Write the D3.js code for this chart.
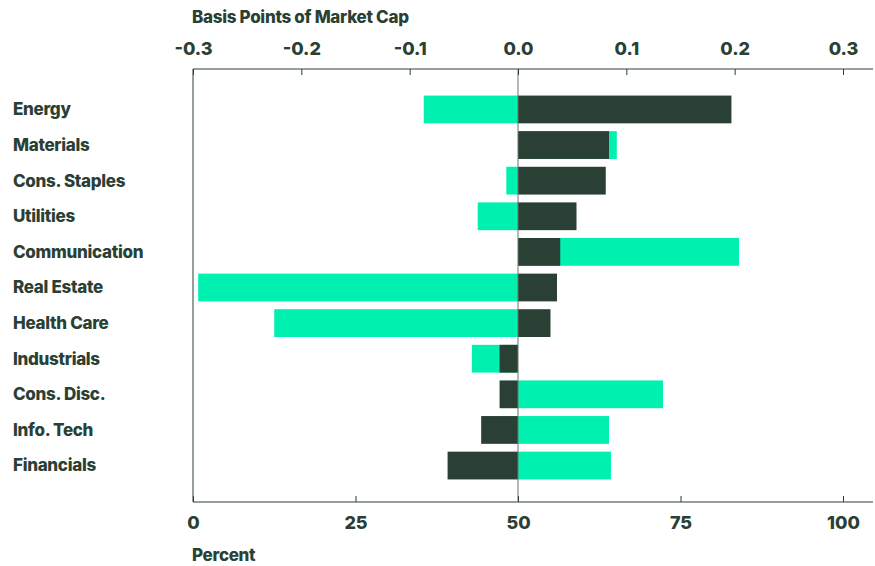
<!DOCTYPE html>
<html lang="en">
<head>
<meta charset="UTF-8" />
<style>
  body { margin: 0; background: #fff; font-family: Inter, "Noto Sans", sans-serif; }
  text { fill: #2a4034; font-weight: 800; }
</style>
</head>
<body>
<svg width="875" height="566"></svg>
<script src="https://d3js.org/d3.v7.min.js"></script>
<script>
const sectors = ['Energy', 'Materials', 'Cons. Staples', 'Utilities', 'Communication', 'Real Estate',
    'Health Care', 'Industrials', 'Cons. Disc.', 'Info. Tech', 'Financials'];
const basisPoints = [0.197, 0.084, 0.081, 0.054, 0.039, 0.036, 0.030, -0.017, -0.017, -0.034, -0.065];
const percent = [35.5, 65.2, 48.2, 43.8, 84.0, 0.8, 12.5, 42.9, 72.3, 64.0, 64.3];
const bpTicks = [-0.3, -0.2, -0.1, 0, 0.1, 0.2, 0.3];
const pctTicks = [0, 25, 50, 75, 100];

const dark = '#2a4034', green = '#00f0b0';
const mLeft = 193, mRight = 843, frameRight = 873, mTop = 69, mBottom = 502;
const svg = d3.select('svg');

const xBp = d3.scaleLinear().domain([-0.3, 0.3]).range([mLeft, mRight]);
const xPct = d3.scaleLinear().domain([0, 100]).range([mLeft, mRight]);
const y = d3.scaleBand().domain(sectors).range([94.5, 480.5]).paddingInner(0.22).paddingOuter(0.03);

// green bars (percent, from 50) drawn first
svg.append('g').selectAll('rect').data(sectors).join('rect')
    .attr('x', (d, i) => Math.min(xPct(50), xPct(percent[i])))
    .attr('width', (d, i) => Math.abs(xPct(percent[i]) - xPct(50)))
    .attr('y', (d) => y(d)).attr('height', y.bandwidth())
    .attr('fill', green);

svg.append('g').selectAll('rect').data(sectors).join('rect')
    .attr('x', (d, i) => Math.min(xBp(0), xBp(basisPoints[i])))
    .attr('width', (d, i) => Math.abs(xBp(basisPoints[i]) - xBp(0)))
    .attr('y', (d) => y(d)).attr('height', y.bandwidth())
    .attr('fill', dark);

// frame lines
svg.append('line').attr('x1', mLeft).attr('x2', frameRight).attr('y1', mTop).attr('y2', mTop).attr('stroke', dark);
svg.append('line').attr('x1', mLeft).attr('x2', frameRight).attr('y1', mBottom).attr('y2', mBottom).attr('stroke', dark);
svg.append('line').attr('x1', mLeft).attr('x2', mLeft).attr('y1', mTop).attr('y2', mBottom).attr('stroke', dark);
svg.append('line').attr('x1', xBp(0)).attr('x2', xBp(0)).attr('y1', mTop).attr('y2', mBottom).attr('stroke', '#6a756f');

// top axis
const topAxis = svg.append('g').attr('transform', `translate(0,${mTop})`)
    .call(d3.axisTop(xBp).tickValues(bpTicks).tickFormat((d) => d.toFixed(1)).tickSizeInner(-6).tickSizeOuter(0).tickPadding(14));
topAxis.select('.domain').remove();
topAxis.selectAll('line').attr('stroke', dark);
topAxis.selectAll('text').attr('font-size', 18).attr('font-family', 'Inter, sans-serif').attr('fill', dark);

const botAxis = svg.append('g').attr('transform', `translate(0,${mBottom})`)
    .call(d3.axisBottom(xPct).tickValues(pctTicks).tickSizeInner(-6).tickSizeOuter(0).tickPadding(14));
botAxis.select('.domain').remove();
botAxis.selectAll('line').attr('stroke', dark);
botAxis.selectAll('text').attr('font-size', 18).attr('font-family', 'Inter, sans-serif').attr('fill', dark);

// sector labels
svg.append('g').selectAll('text').data(sectors).join('text')
    .attr('x', 13).attr('y', (d) => y(d) + y.bandwidth() / 2).attr('dy', '0.35em')
    .attr('font-size', 17).attr('letter-spacing', -0.3).text((d) => d);

svg.append('text').attr('x', 192).attr('y', 23).attr('font-size', 17).attr('letter-spacing', -0.3).text('Basis Points of Market Cap');
svg.append('text').attr('x', 192).attr('y', 561).attr('font-size', 17).attr('letter-spacing', -0.3).text('Percent');
</script>
</body>
</html>
